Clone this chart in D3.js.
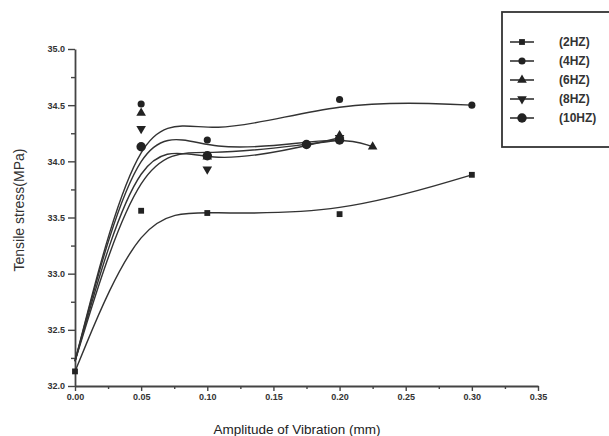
<!DOCTYPE html>
<html>
<head>
<meta charset="utf-8">
<script src="https://cdn.jsdelivr.net/npm/d3@7"></script>
<style>
	body { margin: 0; background: #fff; }
	svg { display: block; font-family: "Liberation Sans", Arial, sans-serif; }
	.tick text { font-size: 9px; font-weight: bold; fill: #333; }
</style>
</head>
<body>
<div id="svg-container"></div>
<script>
// DATA
const seriesNames = ["(2HZ)", "(4HZ)", "(6HZ)", "(8HZ)", "(10HZ)"];
const hz2 = [[0, 32.13], [0.05, 33.56], [0.10, 33.54], [0.20, 33.53], [0.30, 33.88]];
const hz4 = [[0, 32.22], [0.05, 34.51], [0.10, 34.19], [0.20, 34.55], [0.30, 34.50]];
const hz6 = [[0, 32.22], [0.05, 34.43], [0.10, 34.04], [0.20, 34.23], [0.225, 34.13]];
const hz8 = [[0, 32.22], [0.05, 34.29], [0.10, 33.93], [0.20, 34.21]];
const hz10 = [[0, 32.22], [0.05, 34.13], [0.10, 34.05], [0.175, 34.15], [0.20, 34.19]];
const xTicks = [0, 0.05, 0.10, 0.15, 0.20, 0.25, 0.30, 0.35];
const yTicks = [32.0, 32.5, 33.0, 33.5, 34.0, 34.5, 35.0];

const allSeries = [hz2, hz4, hz6, hz8, hz10];
const symbols = [d3.symbolSquare, d3.symbolCircle, d3.symbolTriangle, d3.symbolTriangle, d3.symbolCircle];
const symSizes = [34, 40, 40, 40, 70];
const symRotate = [0, 0, 0, 180, 0];

function graphData() {
	const w = 609;
	const h = 436;
	const ink = "#222";

	const xScale = d3.scaleLinear().domain([0, 0.35]).range([75, 538]);
	const yScale = d3.scaleLinear().domain([32, 35]).range([386, 49]);

	const svg = d3.select("#svg-container")
		.append("svg")
		.attr("width", w)
		.attr("height", h);

	// x-axis (major + minor)
	svg.append("g")
		.attr("transform", `translate(0, ${yScale(32)})`)
		.call(d3.axisBottom(xScale).tickValues(xTicks).tickSize(5).tickSizeOuter(0).tickFormat(d3.format(".2f")))
		.call(g => g.select(".domain").attr("stroke", "#444").attr("stroke-width", 1.8));
	svg.append("g")
		.attr("transform", `translate(0, ${yScale(32)})`)
		.call(d3.axisBottom(xScale).tickValues(xTicks.slice(0, -1).map(d => d + 0.025)).tickSize(3).tickFormat(""))
		.call(g => g.select(".domain").remove());

	// y-axis (major + minor)
	svg.append("g")
		.attr("transform", `translate(${xScale(0)}, 0)`)
		.call(d3.axisLeft(yScale).tickValues(yTicks).tickSize(7).tickSizeOuter(0).tickFormat(d3.format(".1f")))
		.call(g => g.select(".domain").attr("stroke", "#444").attr("stroke-width", 1.8));
	svg.append("g")
		.attr("transform", `translate(${xScale(0)}, 0)`)
		.call(d3.axisLeft(yScale).tickValues(yTicks.slice(0, -1).map(d => d + 0.25)).tickSize(4).tickFormat(""))
		.call(g => g.select(".domain").remove());
	svg.selectAll(".tick line").attr("stroke", "#444").attr("stroke-width", 1.4);

	// labels
	svg.append("text")
		.text("Amplitude of Vibration (mm)")
		.attr("x", 297)
		.attr("y", 434)
		.attr("text-anchor", "middle")
		.style("font-size", "13.5px")
		.style("fill", ink);
	svg.append("text")
		.text("Tensile stress(MPa)")
		.attr("transform", "translate(24, 210) rotate(-90)")
		.attr("text-anchor", "middle")
		.style("font-size", "14px")
		.style("fill", "#333");

	// curves (B-spline through data)
	const line = d3.line()
		.x(d => xScale(d[0]))
		.y(d => yScale(d[1]))
		.curve(d3.curveBasis);
	svg.selectAll("path.curve")
		.data(allSeries)
		.enter()
		.append("path")
		.attr("class", "curve")
		.attr("d", line)
		.attr("fill", "none")
		.attr("stroke", "#333")
		.attr("stroke-width", 1.4);

	// markers
	allSeries.forEach((s, i) => {
		svg.selectAll(null)
			.data(s.slice(1).concat(i === 0 ? [s[0]] : []))
			.enter()
			.append("path")
			.attr("d", d3.symbol().type(symbols[i]).size(symSizes[i]))
			.attr("transform", d => `translate(${xScale(d[0])}, ${yScale(d[1])}) rotate(${symRotate[i]})`)
			.attr("fill", ink);
	});

	// legend
	const lg = svg.append("g");
	lg.append("rect")
		.attr("x", 502).attr("y", 12)
		.attr("width", 130).attr("height", 135)
		.attr("fill", "#fff")
		.attr("stroke", "#333")
		.attr("stroke-width", 1.8);
	seriesNames.forEach((name, i) => {
		const yy = 42 + i * 19;
		lg.append("line")
			.attr("x1", 510).attr("x2", 534)
			.attr("y1", yy).attr("y2", yy)
			.attr("stroke", "#333").attr("stroke-width", 1.6);
		lg.append("path")
			.attr("d", d3.symbol().type(symbols[i]).size(symSizes[i]))
			.attr("transform", `translate(522, ${yy}) rotate(${symRotate[i]})`)
			.attr("fill", ink);
		lg.append("text")
			.text(name)
			.attr("x", 559).attr("y", yy + 4)
			.style("font-size", "12px")
			.style("font-weight", "bold")
			.style("fill", "#333");
	});
}

document.addEventListener('DOMContentLoaded', () => {
	graphData();
});
</script>
</body>
</html>
